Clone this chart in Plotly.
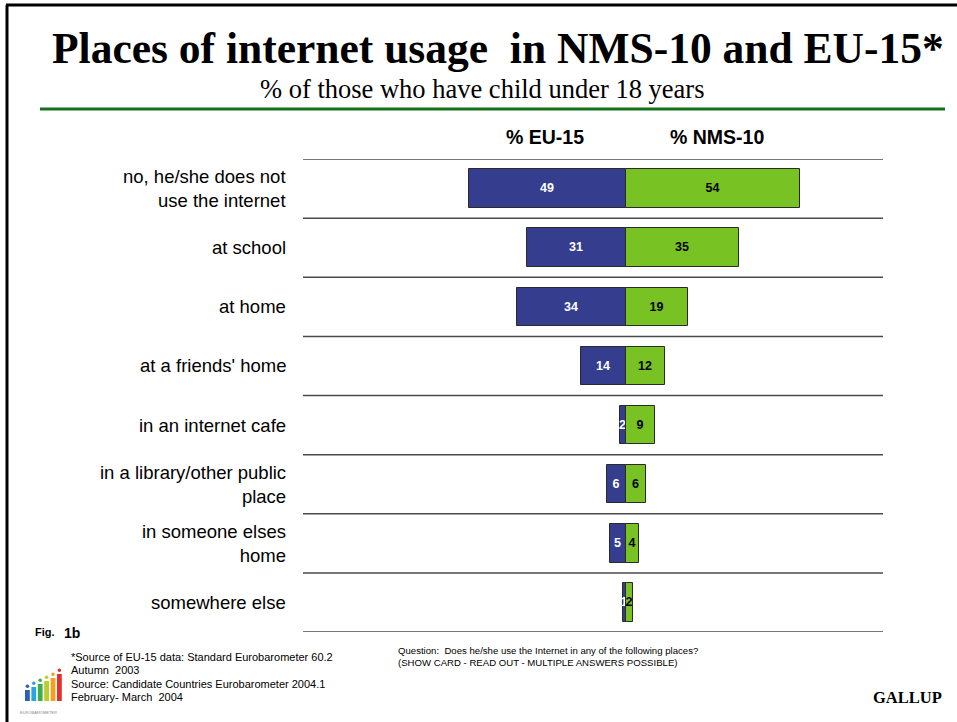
import plotly.graph_objects as go

# ---- data -------------------------------------------------------------
categories = [
    "no, he/she does not<br>use the internet",
    "at school",
    "at home",
    "at a friends' home",
    "in an internet cafe",
    "in a library/other public<br>place",
    "in someone elses<br>home",
    "somewhere else",
]
eu15 = [49, 31, 34, 14, 2, 6, 5, 1]
nms10 = [54, 35, 19, 12, 9, 6, 4, 2]
series_names = ["% EU-15", "% NMS-10"]

# ---- styling ----------------------------------------------------------
W, H = 957, 722
PL, PR, PT, PB = 303, 883, 159, 632      # plot area in pixels
BLUE = "#353d8f"
GREEN = "#79c224"
OUTLINE = "#2a2a2a"
SANS = "Liberation Sans, Arial, sans-serif"
SERIF = "Liberation Serif, Times New Roman, serif"


def px(x):
    return (x - PL) / (PR - PL)


def py(y):
    return (PB - y) / (PB - PT)


fig = go.Figure()

# EU-15 drawn to the left of zero, NMS-10 to the right
fig.add_trace(go.Bar(
    y=categories, x=[-v for v in eu15], orientation="h",
    text=[str(v) for v in eu15], texttemplate="<b>%{text}</b>",
    textposition="inside", insidetextanchor="middle",
    textfont=dict(family=SANS, size=12.5, color="white"),
    marker=dict(color=BLUE, line=dict(color=OUTLINE, width=1)),
    width=0.65, name=series_names[0], cliponaxis=False,
))
fig.add_trace(go.Bar(
    y=categories, x=nms10, orientation="h",
    text=[str(v) for v in nms10], texttemplate="<b>%{text}</b>",
    textposition="inside", insidetextanchor="middle",
    textfont=dict(family=SANS, size=12.5, color="black"),
    marker=dict(color=GREEN, line=dict(color=OUTLINE, width=1)),
    width=0.65, name=series_names[1], cliponaxis=False,
))

shapes = []
# row separators
for i in range(len(categories) + 1):
    shapes.append(dict(type="line", xref="paper", yref="y",
                       x0=0, x1=1, y0=i - 0.5, y1=i - 0.5,
                       line=dict(color="#4a4a4a", width=1.5)))
# green rule under the subtitle
shapes.append(dict(type="line", xref="paper", yref="paper",
                   x0=px(40), x1=px(945), y0=py(109), y1=py(109),
                   line=dict(color="#16701a", width=3)))
# slide frame (left and top edges)
shapes.append(dict(type="line", xref="paper", yref="paper",
                   x0=px(7), x1=px(7), y0=py(5), y1=py(725),
                   line=dict(color="black", width=3)))
shapes.append(dict(type="line", xref="paper", yref="paper",
                   x0=px(6), x1=px(960), y0=py(5), y1=py(5),
                   line=dict(color="black", width=3)))

# small Eurobarometer logo figures
logo_cols = ["#2f5fb3", "#2ba3dc", "#3fae49", "#b9cd2b", "#f2a11f", "#e2312d"]
logo_h = [11, 14, 17, 20, 23, 27]
for k, (c, h) in enumerate(zip(logo_cols, logo_h)):
    x0 = 25 + k * 6.4
    shapes.append(dict(type="rect", xref="paper", yref="paper",
                       x0=px(x0), x1=px(x0 + 4.8), y0=py(701), y1=py(701 - h),
                       fillcolor=c, line=dict(width=0)))
    shapes.append(dict(type="circle", xref="paper", yref="paper",
                       x0=px(x0 + 0.6), x1=px(x0 + 4.2),
                       y0=py(701 - h - 2), y1=py(701 - h - 5.6),
                       fillcolor=c, line=dict(width=0)))

annotations = []


def note(text, x, y, size, family=SANS, color="black", xanchor="left",
         yanchor="middle", align="left"):
    annotations.append(dict(text=text, x=px(x), y=py(y), xref="paper",
                            yref="paper", showarrow=False, xanchor=xanchor,
                            yanchor=yanchor, align=align,
                            font=dict(family=family, size=size, color=color)))


# titles
note("<b>Places of internet usage  in NMS-10 and EU-15*</b>", 498, 48, 43.5,
     family=SERIF, xanchor="center")
note("% of those who have child under 18 years", 482, 89, 26.5,
     family=SERIF, xanchor="center")

# column headers
note("<b>" + series_names[0] + "</b>", 545, 137, 19.5, xanchor="center")
note("<b>" + series_names[1] + "</b>", 717, 137, 19.5, xanchor="center")

# category labels, right aligned beside the rows
for cat in categories:
    annotations.append(dict(text=cat, x=px(288), y=cat, xref="paper", yref="y",
                            showarrow=False, xanchor="right", align="right",
                            yanchor="middle",
                            font=dict(family=SANS, size=18.5, color="black")))

# footer
note("<b>Fig.</b>", 33, 632, 11)
note("<b>1b</b>", 62, 633, 14)
note("*Source of EU-15 data: Standard Eurobarometer 60.2", 69, 657, 11)
note("Autumn  2003", 69, 670, 11)
note("Source: Candidate Countries Eurobarometer 2004.1", 69, 684, 11)
note("February- March  2004", 69, 697, 11)
note("Question:  Does he/she use the Internet in any of the following places?",
     396, 650, 9.6)
note("(SHOW CARD - READ OUT - MULTIPLE ANSWERS POSSIBLE)", 396, 662, 9.6)
note("<b>GALLUP</b>", 944, 697, 16.5, family=SERIF, xanchor="right")
note("EUROBAROMETER", 38, 712, 4, color="#888888", xanchor="center")

fig.update_layout(
    width=W, height=H,
    margin=dict(l=PL, r=W - PR, t=PT, b=H - PB, pad=0),
    paper_bgcolor="white", plot_bgcolor="white",
    barmode="relative", bargap=0,
    showlegend=False, hovermode=False,
    uniformtext=dict(minsize=12.5, mode="show"),
    xaxis=dict(range=[-100.5, 79.7], visible=False, fixedrange=True),
    yaxis=dict(type="category", categoryarray=categories,
               range=[len(categories) - 0.5, -0.5],
               visible=False, fixedrange=True),
    shapes=shapes, annotations=annotations,
)

fig.write_html("out.html", config={"displayModeBar": False})
